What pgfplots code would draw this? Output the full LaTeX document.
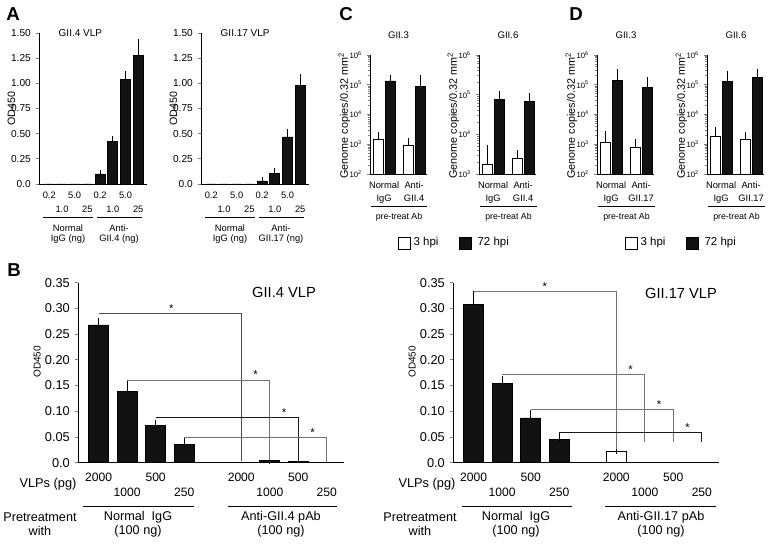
\documentclass[border=0pt]{standalone}
\usepackage{fontspec}
\setmainfont{Liberation Sans}
\usepackage{pgfplots}
\pgfplotsset{compat=1.18}
\definecolor{barblk}{HTML}{121212}
\newcommand\fs[2]{\fontsize{#1}{#2}\selectfont}
\tikzset{brk/.style={line width=0.6pt}}
\pgfplotsset{
  base/.style={scale only axis, clip=false, axis x line*=bottom, axis y line*=left,
    axis line style={line width=0.7pt}, tick align=outside,
    major tick length=2.6pt, minor tick length=1.4pt,
    xtick style={draw=none}, ytick style={line width=0.6pt},
    xticklabel style={align=center}},
  err/.style={error bars/.cd, y dir=plus, y explicit,
    error bar style={line width=0.7pt, black},
    error mark options={line width=0.7pt, mark size=#1}},
  blk/.style={fill=barblk, draw=black, line width=0.5pt},
  wht/.style={fill=white, draw=black, line width=0.7pt},
  panA/.style={base, width=81pt, height=113.25pt, xmin=-0.81, xmax=7.69,
    ymin=0, ymax=1.5, ybar, bar width=7.5pt,
    ytick={0,0.25,0.5,0.75,1,1.25,1.5},
    yticklabels={0.0,0.25,0.50,0.75,1.00,1.25,1.50},
    yticklabel style={font=\fs{7.6}{8}},
    xtick={0,...,7},
    xticklabels={{\strut 0.2\\\strut},{\strut\\\strut 1.0},{\strut 5.0\\\strut},{\strut\\\strut 25},
                 {\strut 0.2\\\strut},{\strut\\\strut 1.0},{\strut 5.0\\\strut},{\strut\\\strut 25}},
    xticklabel style={font=\fs{7}{10.5}, yshift=2.6pt},
    ylabel={OD450}, ylabel style={font=\fs{8}{9},
      at={(axis description cs:-0.254,0.5)}, anchor=center}},
  panB/.style={base, width=199.5pt, height=135pt, xmin=-0.72, xmax=8.6,
    ymin=0, ymax=0.35, ybar, bar width=15pt,
    ytick={0,0.05,0.1,0.15,0.2,0.25,0.3,0.35},
    yticklabels={0.0,0.05,0.10,0.15,0.20,0.25,0.30,0.35},
    yticklabel style={font=\fs{9.6}{10}},
    xtick={0,1,2,3,5,6,7,8},
    xticklabels={{\strut 2000\\\strut},{\strut\\\strut 1000},{\strut 500\\\strut},{\strut\\\strut 250},
                 {\strut 2000\\\strut},{\strut\\\strut 1000},{\strut 500\\\strut},{\strut\\\strut 250}},
    xticklabel style={font=\fs{9.1}{11.25}, yshift=-0.3pt},
    ylabel={OD450}, ylabel style={font=\fs{7.5}{9},
      at={(axis description cs:-0.153,0.56)}, anchor=center}},
  panC/.style={base, width=42.75pt, height=89.25pt, xmin=-0.47, xmax=1.43,
    ybar=1.5pt, bar width=7.5pt,
    yticklabel style={font=\fs{5.8}{6}},
    xtick={0,1},
    xticklabel style={font=\fs{7}{9.75}},
    ylabel={Genome copies/0.32 mm\textsuperscript{2}},
    ylabel style={font=\fs{8.1}{9},
      at={(axis description cs:-0.45,0.49)}, anchor=center}},
}
\begin{document}
\begin{tikzpicture}
\useasboundingbox (0,0) rectangle (576pt,408.75pt);

% ---------- A left
\begin{axis}[panA, at={(29.25pt,270.75pt)}]
\addplot[blk, bar shift=0pt, err=2.4pt] coordinates {
  (0,0) (1,0) (2,0) (3,0)
  (4,0.100) += (0,0.006) (5,0.420) += (0,0.025)
  (6,1.035) += (0,0.060) (7,1.275) += (0,0.130)};
\end{axis}
% ---------- A right
\begin{axis}[panA, at={(150.75pt,270.75pt)}]
\addplot[blk, bar shift=0pt, err=2.4pt] coordinates {
  (0,0) (1,0) (2,0) (3,0)
  (4,0.030) += (0,0.003) (5,0.106) += (0,0.020)
  (6,0.468) += (0,0.046) (7,0.979) += (0,0.080)};
\end{axis}

% ---------- C GII.3
\begin{axis}[panC, ymode=log, log origin=infty, ymin=100, ymax=1e6,
  at={(277.5pt,278.25pt)},
  ytick={100,1000,10000,100000,1000000},
  yticklabels={10\textsuperscript{2},10\textsuperscript{3},10\textsuperscript{4},10\textsuperscript{5},10\textsuperscript{6}},
  xticklabels={{Normal\\IgG},{Anti-\\GII.4}}]
\addplot[wht, err=2.4pt] coordinates {(0,1400) += (0,600) (1,890) += (0,370)};
\addplot[blk, err=2.4pt] coordinates {(0,135000) += (0,35000) (1,90000) += (0,70000)};
\end{axis}
% ---------- C GII.6
\begin{axis}[panC, ymode=log, log origin=infty, ymin=1000, ymax=1e6,
  at={(359.25pt,278.25pt)},
  ytick={1000,10000,100000,1000000},
  yticklabels={10\textsuperscript{3},10\textsuperscript{4},10\textsuperscript{5},10\textsuperscript{6}},
  xticklabels={{Normal\\IgG},{Anti-\\GII.4}}]
\addplot[wht, err=2.4pt] coordinates {(0,1700) += (0,2700) (1,2500) += (0,800)};
\addplot[blk, err=2.4pt] coordinates {(0,75000) += (0,30000) (1,66000) += (0,24000)};
\end{axis}
% ---------- D GII.3
\begin{axis}[panC, ymode=log, log origin=infty, ymin=100, ymax=1e6,
  at={(447.75pt,278.25pt)},
  ytick={100,1000,10000,100000,1000000},
  yticklabels={10\textsuperscript{2},10\textsuperscript{3},10\textsuperscript{4},10\textsuperscript{5},10\textsuperscript{6}},
  xticklabels={{Normal\\IgG},{Anti-\\GII.17}}]
\addplot[wht, err=2.4pt] coordinates {(0,1130) += (0,1070) (1,750) += (0,400)};
\addplot[blk, err=2.4pt] coordinates {(0,138000) += (0,120000) (1,79000) += (0,61000)};
\end{axis}
% ---------- D GII.6
\begin{axis}[panC, ymode=log, log origin=infty, ymin=100, ymax=1e6,
  at={(530.25pt,278.25pt)},
  ytick={100,1000,10000,100000,1000000},
  yticklabels={10\textsuperscript{2},10\textsuperscript{3},10\textsuperscript{4},10\textsuperscript{5},10\textsuperscript{6}},
  xticklabels={{Normal\\IgG},{Anti-\\GII.17}}]
\addplot[wht, err=2.4pt] coordinates {(0,1860) += (0,1020) (1,1410) += (0,640)};
\addplot[blk, err=2.4pt] coordinates {(0,130000) += (0,100000) (1,180000) += (0,90000)};
\end{axis}

% ---------- B left
\begin{axis}[panB, at={(58.5pt,61.7pt)}]
\addplot[blk, bar shift=0pt, err=3.2pt] coordinates {
  (0,0.268) += (0,0.005) (1,0.138) += (0,0.013)
  (2,0.072) += (0,0.002) (3,0.036) += (0,0.004)};
\addplot[blk, bar shift=0pt, err=3.2pt] coordinates {
  (5,0.001) (6,0.004) += (0,0.001) (7,0.002) (8,0.001)};
\draw[brk, black!70] (axis cs:0,0.290) -- (axis cs:5,0.290) -- (axis cs:5,0.003);
\draw[brk, black!55] (axis cs:1,0.161) -- (axis cs:6,0.161) -- (axis cs:6,0.006);
\draw[brk, black!90] (axis cs:2,0.089) -- (axis cs:7,0.089) -- (axis cs:7,0.003);
\draw[brk, black!55] (axis cs:3,0.049) -- (axis cs:8,0.049) -- (axis cs:8,0.002);
\node[font=\fs{8.5}{9}, anchor=south, inner sep=0.5pt] at (axis cs:2.55,0.290) {*};
\node[font=\fs{8.5}{9}, anchor=south, inner sep=0.5pt] at (axis cs:5.5,0.161) {*};
\node[font=\fs{8.5}{9}, anchor=south, inner sep=0.5pt] at (axis cs:6.5,0.089) {*};
\node[font=\fs{8.5}{9}, anchor=south, inner sep=0.5pt] at (axis cs:7.5,0.049) {*};
\end{axis}
% ---------- B right
\begin{axis}[panB, at={(339.75pt,61.7pt)}]
\addplot[blk, bar shift=0pt, err=3.2pt] coordinates {
  (0,0.308) += (0,0.017) (1,0.155) += (0,0.006)
  (2,0.087) += (0,0.008) (3,0.046) += (0,0.004)};
\addplot[wht, bar shift=0pt, err=3.2pt] coordinates {
  (5,0.021) += (0,0.005) (6,0.001) (7,0.001) (8,0.0)};
\draw[brk, black!55] (axis cs:0,0.334) -- (axis cs:5,0.334) -- (axis cs:5,0.027);
\draw[brk, black!55] (axis cs:1,0.172) -- (axis cs:6,0.172) -- (axis cs:6,0.040);
\draw[brk, black!55] (axis cs:2,0.103) -- (axis cs:7,0.103) -- (axis cs:7,0.040);
\draw[brk, black!90] (axis cs:3,0.059) -- (axis cs:8,0.059) -- (axis cs:8,0.040);
\node[font=\fs{8.5}{9}, anchor=south, inner sep=0.5pt] at (axis cs:2.5,0.334) {*};
\node[font=\fs{8.5}{9}, anchor=south, inner sep=0.5pt] at (axis cs:5.5,0.172) {*};
\node[font=\fs{8.5}{9}, anchor=south, inner sep=0.5pt] at (axis cs:6.5,0.103) {*};
\node[font=\fs{8.5}{9}, anchor=south, inner sep=0.5pt] at (axis cs:7.5,0.059) {*};
\end{axis}

% ---------- annotations in pixel coordinates of the reference
\begin{scope}[x=0.75pt, y=-0.75pt, yshift=408.75pt]
  % panel letters
  \node[font=\fs{14}{14}\bfseries] at (13,14) {A};
  \node[font=\fs{14}{14}\bfseries] at (14,270) {B};
  \node[font=\fs{14}{14}\bfseries] at (346,14) {C};
  \node[font=\fs{14}{14}\bfseries] at (576,14) {D};
  % A titles and groups
  \node[font=\fs{7.5}{9}, anchor=west] at (54,33) {GII.4 VLP};
  \node[font=\fs{7.5}{9}, anchor=west] at (216,33) {GII.17 VLP};
  \draw[line width=0.6pt] (43,217) -- (93,217) (97,217) -- (142,217);
  \draw[line width=0.6pt] (205,217) -- (255,217) (259,217) -- (304,217);
  \node[font=\fs{7}{7.8}, align=center, anchor=north] at (68,220) {Normal\\IgG (ng)};
  \node[font=\fs{7}{7.8}, align=center, anchor=north] at (119,220) {Anti-\\GII.4 (ng)};
  \node[font=\fs{7}{7.8}, align=center, anchor=north] at (230,220) {Normal\\IgG (ng)};
  \node[font=\fs{7}{7.8}, align=center, anchor=north] at (281,220) {Anti-\\GII.17 (ng)};
  % C / D titles and groups
  \foreach \cx/\xa/\xb/\t in {398.5/371/427/GII.3, 508/480/537/GII.6, 626/598/655/GII.3, 736/708/765/GII.6}{
    \node[font=\fs{7.2}{8}] at (\cx,35) {\t};
    \draw[line width=0.6pt] (\xa,206) -- (\xb,206);
    \node[font=\fs{6.6}{7}] at ({(\xa+\xb)/2},217) {pre-treat Ab};
  }
  % legends for C and D
  \foreach \lx in {398, 625}{
    \draw[line width=0.6pt, fill=white] (\lx,237) rectangle ++(12,12);
    \node[font=\fs{8.6}{9}, anchor=west, inner sep=1pt] at (\lx+14,243) {3 hpi};
    \draw[line width=0.6pt, fill=barblk] (\lx+61,237) rectangle ++(12,12);
    \node[font=\fs{8.6}{9}, anchor=west, inner sep=1pt] at (\lx+78,243) {72 hpi};
  }
  % B titles and groups
  \node[font=\fs{11}{12}] at (284,292) {GII.4 VLP};
  \node[font=\fs{11}{12}] at (681,293) {GII.17 VLP};
  \node[font=\fs{9.6}{10}] at (48,484) {VLPs (pg)};
  \node[font=\fs{9.6}{10}] at (427,484) {VLPs (pg)};
  \draw[line width=0.6pt] (83,506) -- (194,506) (228,506) -- (337,506);
  \draw[line width=0.6pt] (462,506) -- (572,506) (605,506) -- (716,506);
  \node[font=\fs{9.5}{10.5}, align=center] at (40,524) {Pretreatment\\with};
  \node[font=\fs{9.5}{10.5}, align=center] at (420,524) {Pretreatment\\with};
  \node[font=\fs{9.5}{10.5}, align=center] at (138,524) {Normal\ \ IgG\\(100 ng)};
  \node[font=\fs{9.5}{10.5}, align=center] at (281,524) {Anti-GII.4 pAb\\(100 ng)};
  \node[font=\fs{9.5}{10.5}, align=center] at (516,524) {Normal\ \ IgG\\(100 ng)};
  \node[font=\fs{9.5}{10.5}, align=center] at (661,524) {Anti-GII.17 pAb\\(100 ng)};
\end{scope}
\end{tikzpicture}
\end{document}
